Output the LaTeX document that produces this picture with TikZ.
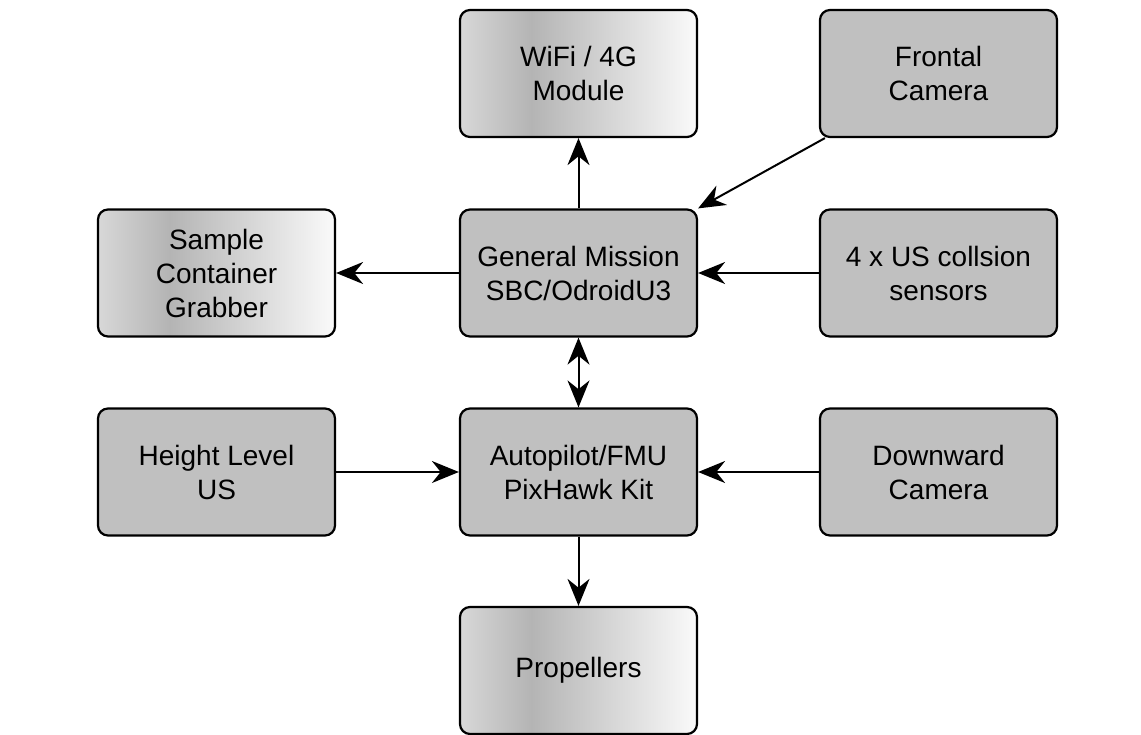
\documentclass[tikz,border=0pt]{standalone}
\usepackage{fontspec}
\setmainfont{Liberation Sans}
\usetikzlibrary{arrows.meta}
\definecolor{boxgray}{HTML}{C0C0C0}
\definecolor{gA}{HTML}{D8D8D8}
\definecolor{gB}{HTML}{B4B4B4}
\definecolor{gC}{HTML}{FAFAFA}
\pgfdeclarehorizontalshading{metal}{100bp}{color(0bp)=(gA); color(25bp)=(gA); color(40bp)=(gB); color(75bp)=(gC); color(100bp)=(gC)}
\tikzset{
  blk/.style={draw=black, line width=2.2pt, rounded corners=10pt, minimum width=237pt, minimum height=127pt, inner sep=0pt, align=center, font=\fontsize{28}{34}\selectfont},
  grayblk/.style={blk, fill=boxgray},
  metalblk/.style={blk, shading=metal},
  arr/.style={line width=2pt, -{Stealth[length=27pt,width=22pt]}},
  darr/.style={line width=2pt, {Stealth[length=27pt,width=22pt]}-{Stealth[length=27pt,width=22pt]}}
}
\begin{document}
\begin{tikzpicture}[x=1pt,y=-1pt]
\useasboundingbox (0,0) rectangle (1141,734);
\node[metalblk] (wifi) at (578.5,73.5) {WiFi / 4G\\Module};
\node[grayblk] (fc) at (938.5,73.5) {Frontal\\Camera};
\node[metalblk] (scg) at (216.5,273) {Sample\\Container\\Grabber};
\node[grayblk] (gm) at (578.5,273) {General Mission\\SBC/OdroidU3};
\node[grayblk] (us) at (938.5,273) {4 x US collsion\\sensors};
\node[grayblk] (hl) at (216.5,472) {Height Level\\US};
\node[grayblk] (ap) at (578.5,472) {Autopilot/FMU\\PixHawk Kit};
\node[grayblk] (dc) at (938.5,472) {Downward\\Camera};
\node[metalblk] (pr) at (578.5,670.5) {Propellers};
\draw[arr] (gm) -- (wifi);
\draw[arr] ([xshift=6pt]fc.south west) -- (gm.north east);
\draw[arr] (gm) -- (scg);
\draw[arr] (us) -- (gm);
\draw[darr] (gm) -- (ap);
\draw[arr] (hl) -- (ap);
\draw[arr] (dc) -- (ap);
\draw[arr] (ap) -- (pr);
\end{tikzpicture}
\end{document}
